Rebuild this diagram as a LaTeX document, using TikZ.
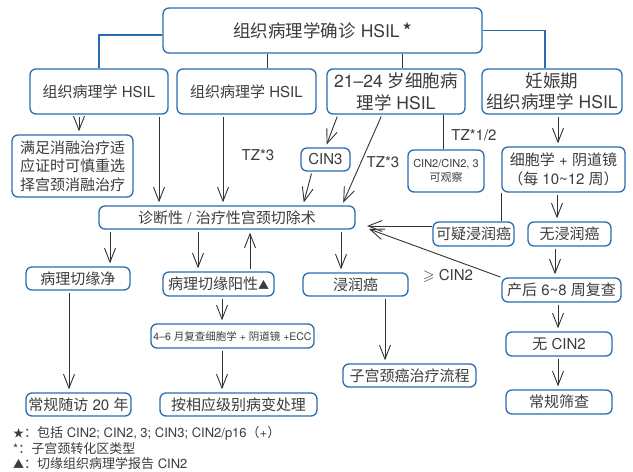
\documentclass[tikz,border=0pt]{standalone}
\usepackage{amssymb}
\usepackage{fontspec}
\setmainfont{TeX Gyre Heros}
\newfontfamily\cjkf{Noto Sans CJK SC}
\newfontfamily\latf{TeX Gyre Heros}
\XeTeXinterchartokenstate=1
\newXeTeXintercharclass\cjkcls
\makeatletter
\def\setcjkrange#1#2{\count@=#1\relax\loop\XeTeXcharclass\count@=\cjkcls\advance\count@ by 1\relax\ifnum\count@<#2\relax\repeat}
\makeatother
\setcjkrange{"4E00}{"A000}
\setcjkrange{"3000}{"3040}
\setcjkrange{"FF00}{"FFF0}
\XeTeXcharclass"2605=\cjkcls
\XeTeXcharclass"25B2=\cjkcls
\XeTeXinterchartoks 0 \cjkcls = {\cjkf}
\XeTeXinterchartoks 4095 \cjkcls = {\cjkf}
\XeTeXinterchartoks \cjkcls 0 = {\latf}
\XeTeXinterchartoks \cjkcls 4095 = {\latf}
\usetikzlibrary{arrows.meta,calc}
\definecolor{bbl}{HTML}{2B6CB0}
\definecolor{txt}{HTML}{3C3C3C}
\definecolor{ln}{HTML}{333333}
\newcommand{\tri}{{\fontsize{11}{11}\selectfont ▲}}
\begin{document}
\begin{tikzpicture}[x=1pt,y=-1pt,
 box/.style={draw=bbl,line width=1.3pt,rounded corners=6pt,fill=white,text=txt,inner sep=0pt,align=center,font=\fontsize{15}{18}\selectfont},
 big/.style={font=\fontsize{17.5}{22}\selectfont},
 small/.style={font=\fontsize{10.5}{14}\selectfont},
 arr/.style={draw=ln,line width=0.9pt,-{Straight Barb[length=14pt,width=11pt]},shorten >=3pt,shorten <=2pt},
 conn/.style={draw=ln,line width=0.9pt},
 bconn/.style={draw=bbl,line width=1.3pt},
 lab/.style={text=txt,inner sep=0pt,font=\fontsize{15}{18}\selectfont},
 legend/.style={text=txt,inner sep=0pt,anchor=west,font=\fontsize{13}{15}\selectfont},
]
\useasboundingbox (0,0) rectangle (633,472);
\fill[white] (0,0) rectangle (633,472);

% boxes
\node[box,big,minimum width=319pt,minimum height=45pt] (top) at (322.5,30.5) {组织病理学确诊 HSIL\,\raisebox{0.45em}{\fontsize{9}{9}\selectfont ★}};
\node[box,minimum width=138pt,minimum height=45pt] (b1) at (99,91.5) {组织病理学 HSIL};
\node[box,minimum width=139pt,minimum height=45pt] (b2) at (246.5,91.5) {组织病理学 HSIL};
\node[box,big,minimum width=138pt,minimum height=45pt] (b3) at (396,91.5) {21–24 岁细胞病\\理学 HSIL};
\node[box,big,font=\fontsize{17.5}{20.5}\selectfont,minimum width=140pt,minimum height=45pt] (b4) at (552,91.5) {妊娠期\\组织病理学 HSIL};
\node[box,font=\fontsize{15}{18.5}\selectfont,minimum width=121pt,minimum height=62pt] (ablate) at (72.5,166) {满足消融治疗适\\应证时可慎重选\\择宫颈消融治疗};
\node[box,minimum width=49pt,minimum height=23pt] (cin3) at (325.5,159.5) {CIN3};
\node[box,font=\fontsize{11}{14}\selectfont,minimum width=76pt,minimum height=42pt] (obs) at (446,171) {CIN2/CIN2, 3\\可观察};
\node[box,font=\fontsize{15}{19}\selectfont,minimum width=123pt,minimum height=45pt] (cyto) at (563.5,169.5) {细胞学 + 阴道镜\\（每 10\textasciitilde12 周）};
\node[box,minimum width=256pt,minimum height=23pt] (diag) at (227,217.5) {诊断性 / 治疗性宫颈切除术};
\node[box,minimum width=81pt,minimum height=24pt] (susp) at (473.5,234) {可疑浸润癌};
\node[box,minimum width=83pt,minimum height=24pt] (noinv) at (569.5,234) {无浸润癌};
\node[box,minimum width=104pt,minimum height=23pt] (clean) at (78,278.5) {病理切缘净};
\node[box,minimum width=111pt,minimum height=24pt] (pos) at (218.5,284) {病理切缘阳性\tri};
\node[box,minimum width=105pt,minimum height=23pt] (inv) at (355.5,284.5) {浸润癌};
\node[box,minimum width=119pt,minimum height=24pt] (post) at (561.5,290) {产后 6\textasciitilde8 周复查};
\node[box,small,minimum width=163pt,minimum height=24pt] (recheck) at (232.5,336) {4–6 月复查细胞学 + 阴道镜 +ECC};
\node[box,minimum width=106pt,minimum height=24pt] (nocin2) at (559,344) {无 CIN2};
\node[box,minimum width=133pt,minimum height=23pt] (cancer) at (409.5,375.5) {子宫颈癌治疗流程};
\node[box,minimum width=105pt,minimum height=23pt] (fu20) at (78.5,404.5) {常规随访 20 年};
\node[box,minimum width=157pt,minimum height=23pt] (treat) at (238.5,404.5) {按相应级别病变处理};
\node[box,minimum width=106pt,minimum height=24pt] (screen) at (559,402) {常规筛查};

% labels
\node[lab] (tz1) at (258,155) {TZ*3};
\node[lab] (tz2) at (383,162) {TZ*3};
\node[lab] (tz3) at (474,135) {TZ*1/2};
\node[lab] (ge) at (448,276) {$\geqslant$ CIN2};

% coordinates for free ends
\coordinate (dt) at (367,226);
\coordinate (dt2) at (369,229);

% top connectors
\draw[bconn] ([yshift=-4.5pt]top.west) -| (b1.north);
\draw[bconn] (top.east) -| ([xshift=-7pt]b4.north);
\draw[conn] ([xshift=20.5pt]b2.north |- top.south) -- ([xshift=20.5pt]b2.north);
\draw[conn] ([xshift=6pt]b3.north |- top.south) -- ([xshift=6pt]b3.north);

% arrows
\draw[arr] ([xshift=-20pt]b1.south) -- ([xshift=-20pt]b1.south |- ablate.north);
\draw[arr] ([xshift=60pt]b1.south) -- ([xshift=60pt]b1.south |- diag.north);
\draw[arr] ([xshift=-23.5pt]b2.south) -- ([xshift=-23.5pt]b2.south |- diag.north);
\draw[arr] ([xshift=-58pt]b3.south) -- (cin3.north);
\draw[arr] ([xshift=-13.5pt]cin3.south) -- ([xshift=76pt]diag.north);
\draw[arr] ([xshift=-14pt]b3.south) -- ([xshift=115pt]diag.north);
\draw[conn] ([xshift=47pt]b3.south) -- ([xshift=47pt]b3.south |- obs.north);
\draw[arr] ([xshift=6pt]b4.south) -- ([xshift=6pt]b4.south |- cyto.north);
\draw[conn] (cyto.south west) -- (cyto.south west |- susp.north);
\draw[arr] ([xshift=-6.5pt]cyto.south) -- ([xshift=-6.5pt]cyto.south |- noinv.north);
\draw[arr,shorten >=0pt,shorten <=0pt] (susp.west |- dt) -- (dt);
\draw[arr,shorten >=0pt,shorten <=1pt] (post.north west) -- (dt2);
\draw[arr] ([xshift=-14.5pt]noinv.south) -- ([xshift=-14.5pt]noinv.south |- post.north);
\draw[arr] ([xshift=-3.5pt]post.south) -- ([xshift=-3.5pt]post.south |- nocin2.north);
\draw[arr] ([xshift=-1pt]nocin2.south) -- ([xshift=-1pt]nocin2.south |- screen.north);
\draw[arr] ([xshift=-117pt]diag.south) -- ([xshift=-117pt]diag.south |- clean.north);
\draw[arr] ([xshift=-29pt]diag.south) -- ([xshift=-29pt]diag.south |- pos.north);
\draw[arr] ([xshift=23pt]diag.south |- pos.north) -- ([xshift=23pt]diag.south);
\draw[arr] ([xshift=114pt]diag.south) -- ([xshift=114pt]diag.south |- inv.north);
\draw[arr] ([xshift=29.5pt]inv.south) -- ([xshift=29.5pt]inv.south |- cancer.north);
\draw[arr] ([xshift=-9pt]clean.south) -- ([xshift=-9pt]clean.south |- fu20.north);
\draw[arr] ([xshift=3.5pt]pos.south) -- ([xshift=3.5pt]pos.south |- recheck.north);
\draw[arr] ([xshift=-10.5pt]recheck.south) -- ([xshift=-10.5pt]recheck.south |- treat.north);

% legend
\node[legend] (l1) at (13,433) {{\fontsize{11}{11}\selectfont ★}：包括 CIN2; CIN2, 3; CIN3; CIN2/p16（+）};
\node[legend] (l2) at (13,449) {*：子宫颈转化区类型};
\node[legend] (l3) at (13,464) {\tri：切缘组织病理学报告 CIN2};
\end{tikzpicture}
\end{document}
